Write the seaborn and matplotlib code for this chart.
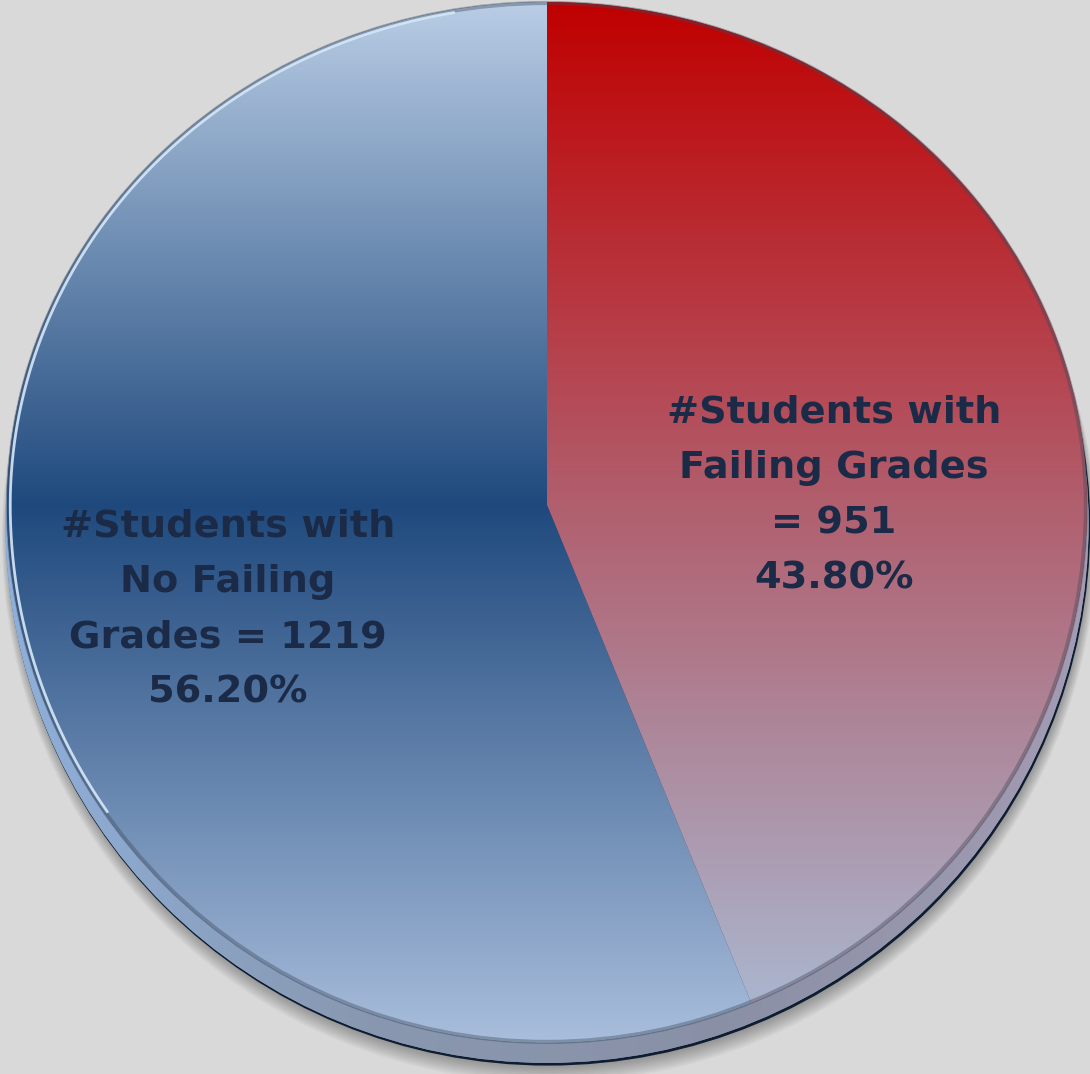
import numpy as np
import matplotlib
matplotlib.use("Agg")
import matplotlib.pyplot as plt
import matplotlib.colors as mcolors
import matplotlib.transforms as mtransforms
from matplotlib.patches import Circle
import seaborn as sns

# ---- data ----
categories = ["Failing Grades", "No Failing Grades"]
counts = [951, 1219]
percents = [43.80, 56.20]
label_names = ["#Students with\nFailing Grades\n", "#Students with\nNo Failing\nGrades "]

# ---- style ----
sns.set_style("white")
plt.rcParams["font.family"] = ["DejaVu Sans"]
BG = "#d9d9d9"
TEXT = "#1b2a47"

# vertical gradient stops (screen-like data y, colour)
red_stops = [(0.93, "#c00000"), (0.0, "#b15f6e"), (-0.898, "#aab4cc"), (-1.05, "#a9b6cf")]
blue_stops = [(0.93, "#b9cde5"), (0.0, "#1f497d"), (-0.996, "#a9bedc"), (-1.05, "#a9bedc")]


class Tilt(mtransforms.Transform):
    """Slight perspective: far (upper) half of the disc is compressed."""
    input_dims = 2
    output_dims = 2
    is_separable = False
    has_inverse = False

    def __init__(self, top, bottom):
        super().__init__()
        self.top = top
        self.bottom = bottom

    def transform_non_affine(self, values):
        v = np.array(values, dtype=float).copy()
        y = v[:, 1]
        v[:, 1] = np.where(y > 0, y * self.top, y * self.bottom)
        return v


fig = plt.figure(figsize=(10.9, 10.74), dpi=100, facecolor=BG)
ax = fig.add_axes([0, 0, 1, 1])
ax.set_facecolor(BG)

XL = (-547 / 540, (1090 - 547) / 540)
YL = (-(1074 - 505) / 540, 505 / 540)
tilt = Tilt(503 / 540, 538 / 540)
T = tilt + ax.transData


def vgrad(stops, n=800):
    ys = np.linspace(1.0, -1.06, n)
    sy = np.array([s[0] for s in stops])[::-1]
    cols = np.array([mcolors.to_rgb(s[1]) for s in stops])[::-1]
    out = np.zeros((n, 1, 3))
    for c in range(3):
        out[:, 0, c] = np.interp(ys, sy, cols[:, c])
    return out


EXT = [-1.02, 1.02, -1.06, 1.0]

# soft shadow (mostly below the disc)
for i in range(10):
    ax.add_patch(Circle((0.004, -0.042 - i * 0.002), 1.0 + i * 0.0015,
                        color="black", alpha=0.035, lw=0, zorder=0.5, transform=T))
# dark outer edge of the base
ax.add_patch(Circle((0.002, -0.038), 1.004, color="#0f1d30", lw=0, zorder=1,
                    transform=T))
# rim (base) with horizontal gradient
rim = Circle((0, -0.034), 1.003, color="#8797b0", lw=0, zorder=1.1, transform=T)
ax.add_patch(rim)
rim_pal = sns.blend_palette(["#8fb0dc", "#8898b0", "#8a90a6", "#a49cb4"], n_colors=400)
rim_img = np.array(rim_pal)[None, :, :]
im = ax.imshow(rim_img, extent=EXT, aspect="auto", zorder=1.2)
im.set_clip_path(rim)

# pie
wedges, _ = ax.pie(counts, colors=["#c00000", "#1f497d"], startangle=90,
                   counterclock=False, radius=1.0, center=(0, 0),
                   wedgeprops=dict(linewidth=0))
for w, stops in zip(wedges, [red_stops, blue_stops]):
    w.set_transform(T)
    w.set_zorder(2)
    g = ax.imshow(vgrad(stops), extent=EXT, aspect="auto", zorder=2.1)
    g.set_clip_path(w)

# face edge and highlight
ax.add_patch(Circle((0, 0), 0.998, fill=False, edgecolor="#3f4a5c", lw=3,
                    alpha=0.4, zorder=3, transform=T))
th = np.radians(np.linspace(100, 215, 200))
ax.plot(0.994 * np.cos(th), 0.994 * np.sin(th), color="#d6e8fa", lw=2,
        alpha=0.9, zorder=3.1, transform=T, solid_capstyle="round")

# labels
label_pos = [(0.531, 0.0176), (-0.591, -0.1935)]
for name, cnt, pct, (x, y) in zip(label_names, counts, percents, label_pos):
    ax.text(x, y, f"{name}= {cnt}\n{pct:.2f}%", ha="center", va="center",
            multialignment="center", fontsize=27.5, fontweight="bold",
            color=TEXT, linespacing=1.68, zorder=5)

ax.set_aspect("equal")
ax.set_xlim(*XL)
ax.set_ylim(*YL)
ax.axis("off")

fig.savefig("out.png", dpi=100, facecolor=BG)
